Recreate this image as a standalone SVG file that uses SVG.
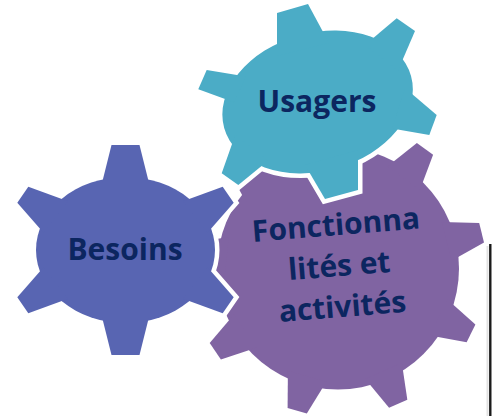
<svg xmlns="http://www.w3.org/2000/svg" width="492" height="416" viewBox="0 0 492 416">
<defs>
<style>
.label{font-family:"Open Sans","Liberation Sans",sans-serif;font-weight:700;font-size:30px;fill:#0c2660;text-anchor:middle}
.halo{fill:#ffffff;stroke:#ffffff;stroke-width:9;stroke-linejoin:miter}
.purple{fill:#8064a2}
.blue{fill:#5865b2}
.cyan{fill:#4bacc6}
</style>
<polygon id="ptooth" points="-20,-112 -10,-148 10,-148 20,-112"/>
<g id="shape-besoins">
<ellipse cx="125.5" cy="250" rx="89.5" ry="73"/>
<polygon points="102,183 111.5,145 139.5,145 149,183"/>
<polygon points="102,317 111.5,355 139.5,355 149,317"/>
<polygon points="68,201.2 28.3,186.7 17.3,202.7 43.5,232.7"/>
<polygon points="183,201.2 222.7,186.7 233.7,202.7 207.5,232.7"/>
<polygon points="68,298.8 28.3,313.3 17.3,297.3 43.5,267.3"/>
<polygon points="183,298.8 222.7,313.3 233.7,297.3 207.5,267.3"/>
</g>
<g id="shape-usagers">
<ellipse cx="317.6" cy="102" rx="97" ry="69" transform="rotate(-15.6 317.6 102)"/>
<polygon points="277,56 277,13 308,4 329,43"/>
<polygon points="365,45 396.7,18.3 415,31 398,70.6"/>
<polygon points="405,88 436.7,115 429.3,135 392,128.6"/>
<polygon points="206.7,70 246,76.5 234,102.2 198.3,89.3"/>
<polygon points="235.2,135 221.7,173.3 238.3,185 268,160.7"/>
<polygon points="305,165 325,199 358,190 358,150"/>
</g>
</defs>

<g id="gear-fonctionnalites">
<g class="purple">
<circle cx="338" cy="268.5" r="121"/>
<use href="#ptooth" transform="translate(338 268.5) rotate(36)"/>
<use href="#ptooth" transform="translate(338 268.5) rotate(76)"/>
<use href="#ptooth" transform="translate(338 268.5) rotate(116)"/>
<use href="#ptooth" transform="translate(338 268.5) rotate(156)"/>
<use href="#ptooth" transform="translate(338 268.5) rotate(196)"/>
<use href="#ptooth" transform="translate(338 268.5) rotate(236)"/>
<use href="#ptooth" transform="translate(338 268.5) rotate(276)"/>
<use href="#ptooth" transform="translate(338 268.5) rotate(316)"/>
<use href="#ptooth" transform="translate(338 268.5) rotate(356)"/>
</g>
<g transform="rotate(-4.6 340 276)">
<text class="label" x="340" y="235">Fonctionna</text>
<text class="label" x="340" y="276">lités et</text>
<text class="label" x="340" y="317">activités</text>
</g>
</g>

<g id="frame-edge">
<line x1="487.5" y1="246" x2="487.5" y2="416" stroke="#e2e2e2" stroke-width="2"/>
<line x1="490.3" y1="244" x2="490.3" y2="416" stroke="#1a1a1a" stroke-width="2.4"/>
</g>

<g id="gear-besoins">
<use href="#shape-besoins" class="halo"/>
<use href="#shape-besoins" class="blue"/>
<text class="label" x="125" y="260">Besoins</text>
</g>

<g id="gear-usagers">
<use href="#shape-usagers" class="halo"/>
<use href="#shape-usagers" class="cyan"/>
<text class="label" x="317" y="111.5">Usagers</text>
</g>
</svg>
